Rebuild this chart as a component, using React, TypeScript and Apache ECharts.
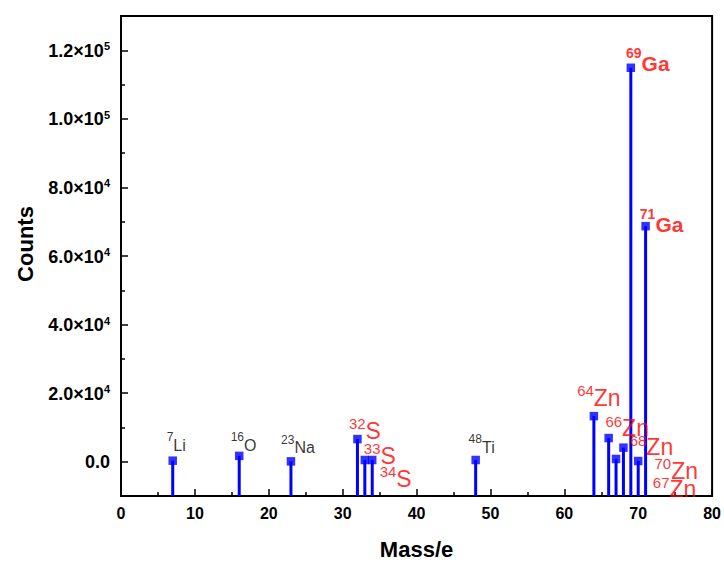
import { useEffect, useRef } from 'react';
import * as echarts from 'echarts';

const massNumbers = [7, 16, 23, 32, 33, 34, 48, 64, 66, 67, 68, 69, 70, 71];
const countValues = [300, 1700, 100, 6600, 500, 500, 500, 13300, 6900, 800, 4100, 114900, 200, 68700];
const elementSymbols = ['Li', 'O', 'Na', 'S', 'S', 'S', 'Ti', 'Zn', 'Zn', 'Zn', 'Zn', 'Ga', 'Zn', 'Ga'];
const labelClasses = ['plain', 'plain', 'plain', 'red', 'red', 'red', 'plain', 'red', 'red', 'red', 'red', 'bold', 'red', 'bold'];
const yMajorValues = [0, 20000, 40000, 60000, 80000, 100000, 120000];
const yMinorValues = [10000, 30000, 50000, 70000, 90000, 110000];

const X_MIN = 0;
const X_MAX = 80;
const Y_MIN = -10000;
const Y_MAX = 130000;

const labelOffsets: Record<string, [number, number]> = {
  '7Li': [3.5, -3],
  '16O': [4.3, 1.7],
  '23Na': [7, -1.3],
  '32S': [7.5, 7.4],
  '33S': [15, 11.4],
  '34S': [23.5, 34.7],
  '48Ti': [6, -0.3],
  '64Zn': [5, -2.7],
  '66Zn': [18.5, 5.7],
  '67Zn': [58.5, 46.2],
  '68Zn': [28, 15.3],
  '69Ga': [17, 10.5],
  '70Zn': [38, 25.4],
  '71Ga': [16, 12.9],
};

const FONT = 'Arial, "Liberation Sans", sans-serif';
const BLUE = '#0000ff';
const RED = '#ff0000';

const fmtY = (v: number) => {
  if (v === 0) return '{m|0.0}';
  const e = Math.floor(Math.log10(v));
  const m = (v / Math.pow(10, e)).toFixed(1);
  return `{m|${m}×10}{s|${e}}`;
};

export default function App() {
  const ref = useRef<HTMLDivElement>(null);
  useEffect(() => {
    if (!ref.current) return;
    const chart = echarts.init(ref.current, null, { renderer: 'svg' });
    const points = massNumbers.map((m, i) => {
      const key = `${m}${elementSymbols[i]}`;
      return {
        value: [m, countValues[i]],
        label: { offset: labelOffsets[key] || [0, 0] },
      };
    });
    chart.setOption({
      animation: false,
      backgroundColor: '#ffffff',
      grid: {
        left: 121,
        right: 9,
        top: 16,
        bottom: 65,
        show: true,
        borderColor: '#000',
        borderWidth: 2,
        backgroundColor: 'transparent',
      },
      xAxis: {
        type: 'value',
        min: X_MIN,
        max: X_MAX,
        interval: 10,
        name: 'Mass/e',
        nameLocation: 'middle',
        nameGap: 42,
        nameTextStyle: { fontFamily: FONT, fontWeight: 'bold', fontSize: 22, color: '#000' },
        axisLine: { show: true, onZero: false, lineStyle: { color: '#000', width: 2 } },
        axisTick: { show: true, inside: true, length: 7, lineStyle: { color: '#000', width: 1.5 } },
        minorTick: { show: true, splitNumber: 2, length: 4, lineStyle: { color: '#000', width: 1.5 } },
        axisLabel: { margin: 9, fontFamily: FONT, fontWeight: 'bold', fontSize: 16, color: '#000' },
        splitLine: { show: false },
      },
      yAxis: [
        {
          type: 'value',
          min: Y_MIN,
          max: Y_MAX,
          interval: 10000,
          name: 'Counts',
          nameLocation: 'middle',
          nameGap: 85,
          nameTextStyle: {
            fontFamily: FONT,
            fontWeight: 'bold',
            fontSize: 22,
            color: '#000',
            padding: [0, 0, 0, 24],
          },
          axisLine: { show: true, onZero: false, lineStyle: { color: '#000', width: 2 } },
          axisTick: {
            show: true,
            inside: true,
            length: 7,
            customValues: yMajorValues,
            lineStyle: { color: '#000', width: 1.5 },
          },
          axisLabel: {
            margin: 11,
            customValues: yMajorValues,
            formatter: fmtY,
            rich: {
              m: { fontFamily: FONT, fontWeight: 'bold', fontSize: 18, color: '#000', lineHeight: 19, verticalAlign: 'bottom' },
              s: { fontFamily: FONT, fontWeight: 'bold', fontSize: 11, color: '#000', lineHeight: 11, verticalAlign: 'top' },
            },
          },
          splitLine: { show: false },
        },
        {
          type: 'value',
          min: Y_MIN,
          max: Y_MAX,
          position: 'left',
          axisLine: { show: false, onZero: false },
          axisTick: {
            show: true,
            inside: true,
            length: 4,
            customValues: yMinorValues,
            lineStyle: { color: '#000', width: 1.5 },
          },
          axisLabel: { show: false },
          splitLine: { show: false },
        },
      ],
      series: [
        {
          type: 'custom',
          xAxisIndex: 0,
          yAxisIndex: 0,
          data: massNumbers.map((m, i) => [m, countValues[i]]),
          renderItem: (params: any, api: any) => {
            const top = api.coord([api.value(0), api.value(1)]);
            const bottom = api.coord([api.value(0), Y_MIN]);
            return {
              type: 'line',
              shape: { x1: top[0], y1: top[1], x2: bottom[0], y2: bottom[1] },
              style: { stroke: BLUE, lineWidth: 3 },
            };
          },
          z: 2,
        },
        {
          type: 'scatter',
          xAxisIndex: 0,
          yAxisIndex: 0,
          symbol: 'rect',
          symbolSize: 8.5,
          itemStyle: { color: BLUE },
          z: 3,
          data: points,
          label: {
            show: true,
            position: 'top',
            distance: 0,
            formatter: (p: any) => {
              const i = p.dataIndex;
              const c = labelClasses[i];
              return `{${c}S|${massNumbers[i]}}{${c}M|${elementSymbols[i]}}`;
            },
            rich: {
              plainS: { fontFamily: FONT, fontSize: 12, color: '#000', lineHeight: 12, verticalAlign: 'top' },
              plainM: { fontFamily: FONT, fontSize: 16, color: '#000', lineHeight: 22, verticalAlign: 'bottom' },
              redS: { fontFamily: FONT, fontSize: 15, color: RED, lineHeight: 15, verticalAlign: 'top' },
              redM: { fontFamily: FONT, fontSize: 23, color: RED, lineHeight: 26, verticalAlign: 'bottom' },
              boldS: { fontFamily: FONT, fontSize: 14, fontWeight: 'bold', color: RED, lineHeight: 14, verticalAlign: 'top' },
              boldM: { fontFamily: FONT, fontSize: 21, fontWeight: 'bold', color: RED, lineHeight: 28, verticalAlign: 'bottom' },
            },
          },
        },
      ],
    });
    return () => chart.dispose();
  }, []);
  return (
    <div
      ref={ref}
      style={{ position: 'fixed', left: 0, top: 0, width: 724, height: 565, background: '#fff' }}
    />
  );
}
